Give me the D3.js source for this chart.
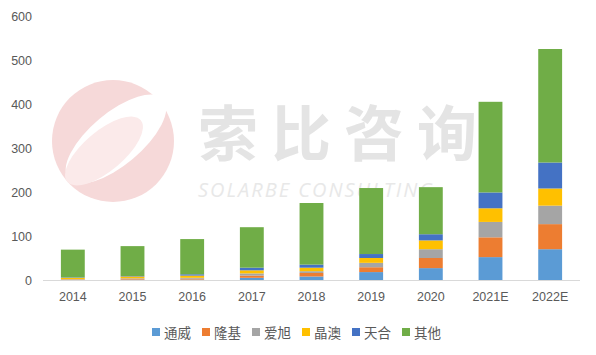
<!DOCTYPE html>
<html><head><meta charset="utf-8">
<script src="https://cdn.jsdelivr.net/npm/d3@7"></script>
<style>body{margin:0;background:#fff}svg{display:block}</style>
</head><body>
<svg id="c" width="596" height="355"></svg>
<script>
const categories = ["2014","2015","2016","2017","2018","2019","2020","2021E","2022E"];
const seriesNames = ["通威","隆基","爱旭","晶澳","天合","其他"];
const seriesColors = ["#5B9BD5","#ED7D31","#A5A5A5","#FFC000","#4472C4","#70AD47"];
const tongwei = [0,1,1,5,8,18,27,52,70];
const longi   = [1,2,2,5,8,11,23,45,57];
const aixu    = [1,1,2,5,4,10,20,35,42];
const jingao  = [3,4,5,7,8,11,20,31,39];
const tianhe  = [1,1,3,6,7,9,14,36,59];
const qita    = [63,68,80,92,140,150,107,206,258];
const yTicks = [0,100,200,300,400,500,600];

const svg = d3.select("#c");
const W = 596, H = 355;
const m = {l:43, r:16, t:17, b:75};

// watermark
const wm = svg.append("g");
wm.append("circle").attr("cx",113).attr("cy",141).attr("r",61).attr("fill","#f6d9d9");
wm.append("ellipse").attr("cx",116).attr("cy",139).attr("rx",62).attr("ry",26)
  .attr("transform","rotate(-40,116,139)").attr("fill","#ffffff");
wm.append("ellipse").attr("cx",104).attr("cy",151).attr("rx",48).attr("ry",20)
  .attr("transform","rotate(-40,104,151)").attr("fill","#fbeaea");
wm.append("text").attr("x",198).attr("y",156).attr("font-family","Noto Sans CJK SC")
  .attr("font-weight",700).attr("font-size",60).attr("letter-spacing",13).attr("fill","#e4e4e4").text("索比咨询");
wm.append("text").attr("x",198).attr("y",197).attr("font-family","Open Sans, sans-serif")
  .attr("font-style","italic").attr("font-size",20).attr("letter-spacing",2).attr("fill","#e8e8e8").text("SOLARBE CONSULTING");

const x = d3.scaleBand().domain(categories).range([m.l, W - m.r]).paddingInner(0.6).paddingOuter(0.3);
const y = d3.scaleLinear().domain([0,600]).range([280, 16]);

const rows = categories.map((c,i)=>({cat:c, 通威:tongwei[i], 隆基:longi[i], 爱旭:aixu[i], 晶澳:jingao[i], 天合:tianhe[i], 其他:qita[i]}));
const stack = d3.stack().keys(seriesNames)(rows);

svg.append("g").selectAll("g").data(stack).join("g")
  .attr("fill",(d,i)=>seriesColors[i])
  .selectAll("rect").data(d=>d).join("rect")
  .attr("x",d=>x(d.data.cat)).attr("width",x.bandwidth())
  .attr("y",d=>y(d[1])).attr("height",d=>y(d[0])-y(d[1]));

// axis line
svg.append("line").attr("x1",m.l).attr("x2",W-m.r).attr("y1",y(0)+0.5).attr("y2",y(0)+0.5)
  .attr("stroke","#d9d9d9").attr("stroke-width",1);

// y labels
const yAxis = d3.axisLeft(y).tickValues(yTicks).tickSize(0).tickPadding(0);
const gy = svg.append("g").attr("transform","translate(32,0)").call(yAxis);
gy.select(".domain").remove();
gy.selectAll("text").attr("font-family","Liberation Sans, Arial, sans-serif").attr("font-size",12.5).attr("fill","#595959");

// x labels
const xAxis = d3.axisBottom(x).tickSize(0).tickPadding(0);
const gx = svg.append("g").attr("transform","translate(0,292)").call(xAxis);
gx.select(".domain").remove();
gx.selectAll("text").attr("font-family","Liberation Sans, Arial, sans-serif").attr("font-size",12.5).attr("fill","#595959");

// legend
const lg = svg.append("g");
const itemW = 50;
seriesNames.forEach((n,i)=>{
  const gx0 = 152 + i*itemW;
  lg.append("rect").attr("x",gx0).attr("y",328).attr("width",8).attr("height",8).attr("fill",seriesColors[i]);
  lg.append("text").attr("x",gx0+12).attr("y",337.5).attr("font-family","Noto Sans CJK SC")
    .attr("font-size",13.5).attr("fill","#595959").text(n);
});
</script>
</body></html>
